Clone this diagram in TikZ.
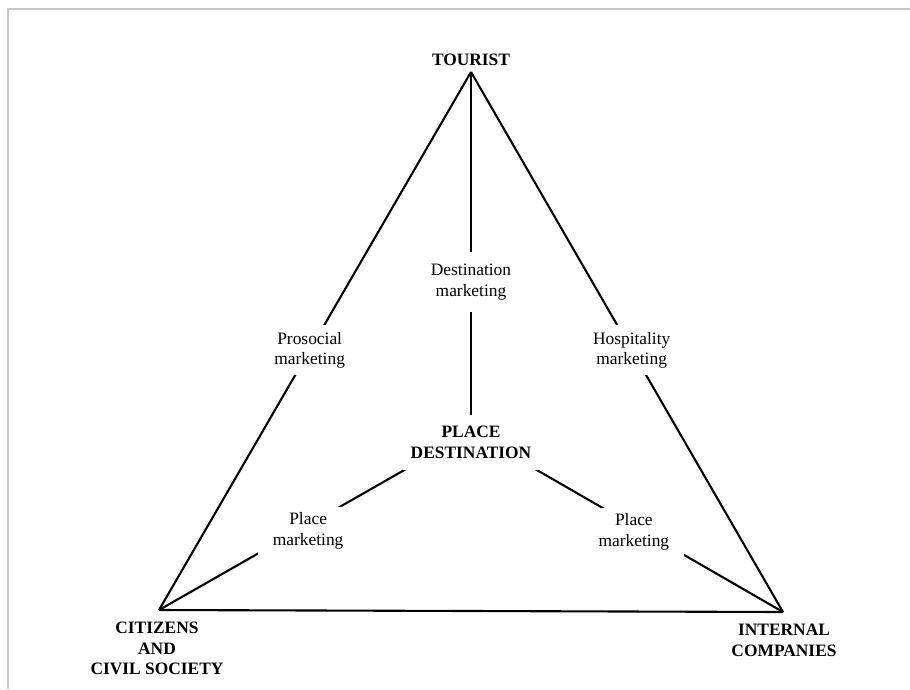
\documentclass[tikz,border=0pt]{standalone}
\usepackage{fontspec}
\setmainfont{Liberation Serif}
\begin{document}
\begin{tikzpicture}[x=1pt,y=-1pt,
  edge/.style={line width=2.1pt, black},
  lbl/.style={fill=white, align=center, font=\fontsize{17.4}{20.5}\selectfont, inner xsep=6pt, inner ysep=7pt},
  corner/.style={align=center, font=\fontsize{17.4}{20.5}\selectfont\bfseries, inner sep=0pt}]
\useasboundingbox (0,0) rectangle (910,689);
% page frame
\draw[line width=2.5pt, black!22] (8,689) -- (8,9) -- (910,9);
% triangle corners and the inner meeting point
\coordinate (T) at (471,72);
\coordinate (C) at (159,610);
\coordinate (I) at (783,612);
\coordinate (hub) at (471,432);
% corner labels
\node[corner, anchor=base] (tourist) at (471,65) {TOURIST};
\node[corner] (citizens) at (157,648.5) {CITIZENS\\AND\\CIVIL SOCIETY};
\node[corner] (internal) at (784,640.5) {INTERNAL\\COMPANIES};
% outer edges
\draw[edge] (T) -- node[lbl, pos=0.517] (prosocial) {Prosocial\\marketing} (C);
\draw[edge] (T) -- node[lbl, pos=0.515] (hospitality) {Hospitality\\marketing} (I);
\draw[edge] (C) -- (I);
% spokes to the centre
\draw[edge] (T) -- node[lbl, pos=0.583, inner ysep=12pt] (destmkt) {Destination\\marketing} (hub);
\draw[edge] (C) -- node[lbl, pos=0.478, yshift=-6pt, inner xsep=15pt, inner ysep=6pt] (placeL) {Place\\marketing} (hub);
\draw[edge] (I) -- node[lbl, pos=0.478, yshift=-6pt, inner xsep=15pt, inner ysep=6pt] (placeR) {Place\\marketing} (hub);
\node[lbl, inner xsep=8pt, inner ysep=11pt, font=\fontsize{17.4}{20.5}\selectfont\bfseries] (place) at (471,442.5) {PLACE\\DESTINATION};
\end{tikzpicture}
\end{document}
